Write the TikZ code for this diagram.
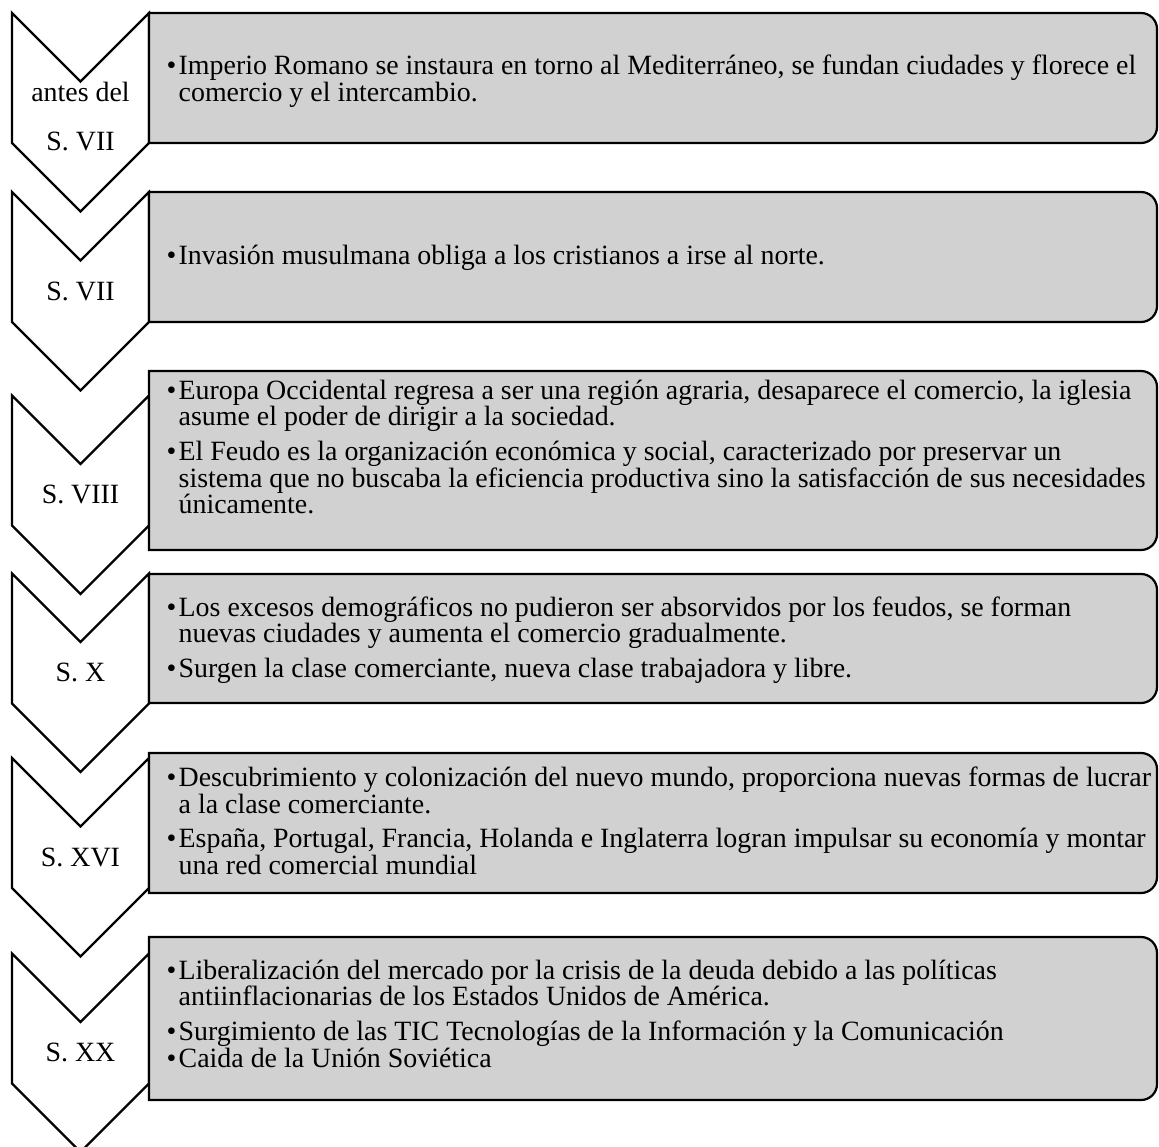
\documentclass[tikz,border=0pt]{standalone}
\usepackage{fontspec}
\setmainfont{Liberation Serif}
\definecolor{boxgray}{RGB}{209,209,209}
\newcommand\txtsize{\fontsize{27.9}{26.6}\selectfont}
\tikzset{
  chevshape/.style={draw=black, fill=white, line width=2.2pt, line join=miter},
  infobox/.style={draw=black, fill=boxgray, line width=2.2pt},
  chevlabel/.style={anchor=base, inner sep=0pt, font=\txtsize},
  infotext/.style={anchor=base west, inner sep=0pt, font=\txtsize},
}
% bullet hung to the left of the text column
\newcommand\bul{\leavevmode\llap{\textbullet\hspace{2.3pt}}}
\newcommand\pgap{\\[8pt]}
\newcommand\infopar[1]{\parbox[t]{1000pt}{\txtsize\raggedright #1}}

\begin{document}
\begin{tikzpicture}[x=1pt,y=-1pt]
\clip (0,0) rectangle (1159,1147);

% downward chevrons, one per period (body centred on its row)
\foreach \c in {78,257,460.5,638.5,823,1018.5}{
  \draw[chevshape] (12,\c-65) -- (80.5,\c+3.5) -- (149,\c-65) -- (149,\c+65)
    -- (80.5,\c+133.5) -- (12,\c+65) -- cycle;
}

% grey description boxes, rounded on the right side only
\foreach \t/\b in {13/143,192/322,371/550,574/703,753/893,937/1100}{
  \draw[infobox] (149,\t) -- (1141,\t) arc[start angle=-90, end angle=0, radius=16]
    -- (1157,\b-16) arc[start angle=0, end angle=90, radius=16] -- (149,\b) -- cycle;
}

% period labels
\node[chevlabel] (c1) at (80.5,101.7) {\parbox[t]{130pt}{\centering\txtsize antes del\\[22.4pt]S. VII}};
\node[chevlabel] (c2) at (80.5,300.3) {S. VII};
\node[chevlabel] (c3) at (80.5,503.8) {S. VIII};
\node[chevlabel] (c4) at (80.5,681.8) {S. X};
\node[chevlabel] (c5) at (80.5,866.5) {S. XVI};
\node[chevlabel] (c6) at (80.5,1061.8) {S. XX};

% descriptions
\node[infotext] (t1) at (178.5,74.5) {\infopar{\bul Imperio Romano se instaura en torno al Mediterráneo, se fundan ciudades y florece el\\
comercio y el intercambio.}};
\node[infotext] (t2) at (178.5,265) {\infopar{\bul Invasión musulmana obliga a los cristianos a irse al norte.}};
\node[infotext] (t3) at (178.5,399.3) {\infopar{\bul Europa Occidental regresa a ser una región agraria, desaparece el comercio, la iglesia\\
asume el poder de dirigir a la sociedad.\pgap
\bul El Feudo es la organización económica y social, caracterizado por preservar un\\
sistema que no buscaba la eficiencia productiva sino la satisfacción de sus necesidades\\
únicamente.}};
\node[infotext] (t4) at (178.5,616) {\infopar{\bul Los excesos demográficos no pudieron ser absorvidos por los feudos, se forman\\
nuevas ciudades y aumenta el comercio gradualmente.\pgap
\bul Surgen la clase comerciante, nueva clase trabajadora y libre.}};
\node[infotext] (t5) at (178.5,786.7) {\infopar{\bul Descubrimiento y colonización del nuevo mundo, proporciona nuevas formas de lucrar\\
a la clase comerciante.\pgap
\bul España, Portugal, Francia, Holanda e Inglaterra logran impulsar su economía y montar\\
una red comercial mundial}};
\node[infotext] (t6) at (178.5,979.3) {\infopar{\bul Liberalización del mercado por la crisis de la deuda debido a las políticas\\
antiinflacionarias de los Estados Unidos de América.\pgap
\bul Surgimiento de las TIC Tecnologías de la Información y la Comunicación\\
\bul Caida de la Unión Soviética}};
\end{tikzpicture}
\end{document}
